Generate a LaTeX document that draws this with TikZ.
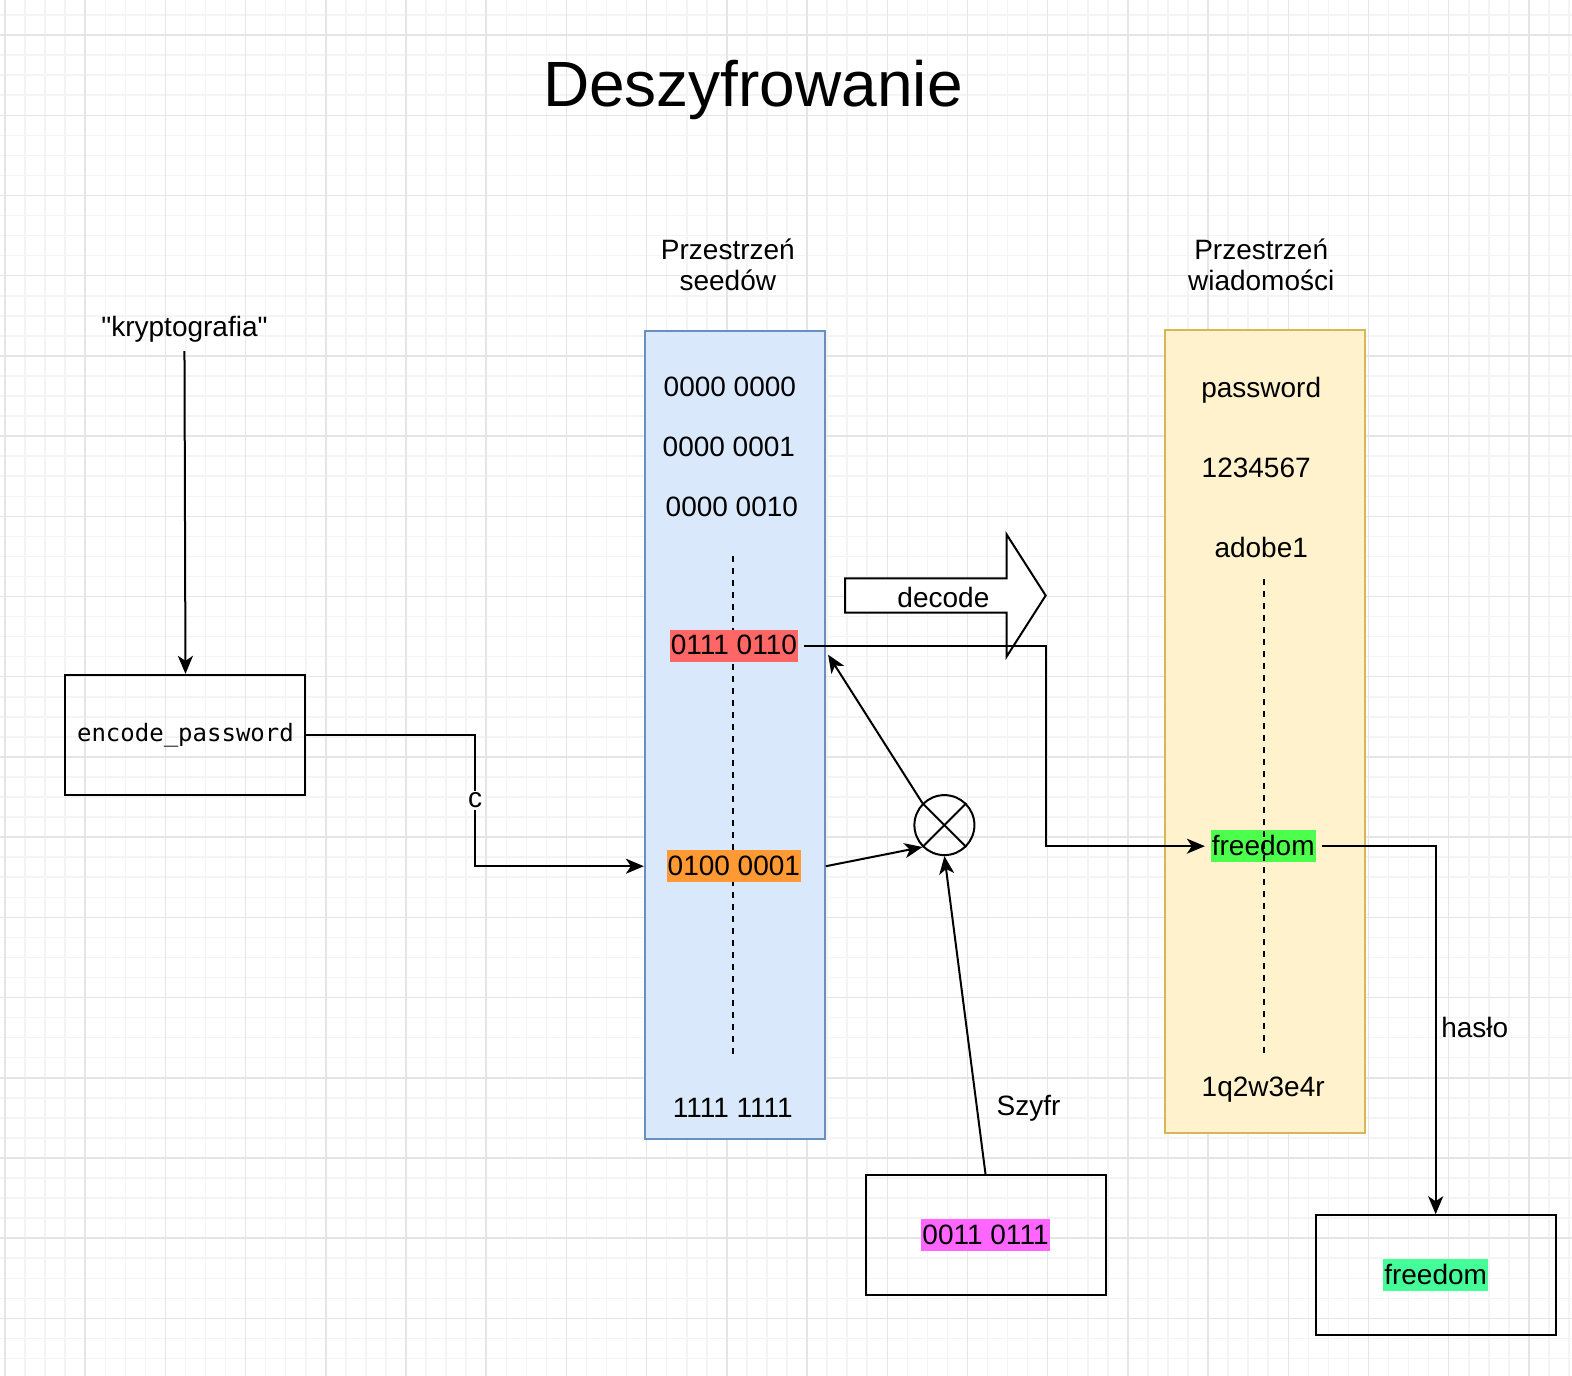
\documentclass[tikz,border=0pt]{standalone}
\usepackage{fontspec}
\setmainfont{Liberation Sans}[Ligatures=TeXOff]
\setmonofont{DejaVu Sans Mono}
\usetikzlibrary{arrows.meta}

\definecolor{gridMinor}{HTML}{F4F4F4}
\definecolor{gridMajor}{HTML}{E5E5E5}
\definecolor{seedFill}{HTML}{DAE8FC}
\definecolor{seedLine}{HTML}{6C8EBF}
\definecolor{msgFill}{HTML}{FFF2CC}
\definecolor{msgLine}{HTML}{D6B656}
\definecolor{hlRed}{HTML}{FF6666}
\definecolor{hlOrange}{HTML}{FF9933}
\definecolor{hlGreen}{HTML}{4DFF4D}
\definecolor{hlMint}{HTML}{44FF99}
\definecolor{hlPink}{HTML}{FF66FF}

\tikzset{
  box/.style={draw, line width=2pt, minimum width=240pt, minimum height=120pt, inner sep=0pt},
  hl/.style={inner xsep=1pt, inner ysep=1pt, text height=24pt, text depth=6pt, outer sep=6pt},
  conn/.style={line width=2pt, -{Stealth[length=18pt,width=15pt,inset=5pt]}},
}

\begin{document}
\begin{tikzpicture}[x=1.00255pt,y=-1.00255pt,font=\fontsize{28}{31}\selectfont]
  \useasboundingbox (0,0) rectangle (1568,1372);
  \fill[white] (0,0) rectangle (1568,1372);

  % grid
  \foreach \x in {5,25,...,1565} {
    \draw[gridMinor,line width=1.5pt] (\x,0) -- (\x,1372);
  }
  \foreach \y in {15,35,...,1355} {
    \draw[gridMinor,line width=1.5pt] (0,\y) -- (1568,\y);
  }
  \foreach \x in {5,85,...,1565} {
    \draw[gridMajor,line width=1.5pt] (\x,0) -- (\x,1372);
  }
  \foreach \y in {35,115,...,1355} {
    \draw[gridMajor,line width=1.5pt] (0,\y) -- (1568,\y);
  }

  \node (title) at (751,90) {\fontsize{64}{70}\selectfont Deszyfrowanie};

  % seed space
  \node[align=center] (seedHead) at (726,264) {Przestrzeń\\seedów};
  \node[draw=seedLine, fill=seedFill, line width=2pt, minimum width=180pt,
        minimum height=808pt] (seedSpace) at (733,733) {};
  \draw[line width=2pt, dash pattern=on 6pt off 6pt] (731,555) -- (731,1052);
  \node (seed0) at (728,386) {0000 0000};
  \node (seed1) at (727,446) {0000 0001};
  \node (seed2) at (730,506) {0000 0010};
  \node[hl, fill=hlRed] (bitA) at (732,644) {0111 0110};
  \node[hl, fill=hlOrange] (bitB) at (732,864) {0100 0001};
  \node (seedLast) at (731,1105) {1111 1111};

  % message space
  \node[align=center] (msgHead) at (1258,264) {Przestrzeń\\wiadomości};
  \node[draw=msgLine, fill=msgFill, line width=2pt, minimum width=200pt,
        minimum height=803pt] (msgSpace) at (1262,730) {};
  \node (msg0) at (1258,389) {password};
  \node (msg1) at (1253,467) {1234567};
  \node (msg2) at (1258,546) {adobe1};
  \node[hl, fill=hlGreen] (msgFree) at (1260,844) {freedom};
  \node (msgLast) at (1260,1087) {1q2w3e4r};
  \draw[line width=2pt, dash pattern=on 6pt off 6pt] (1261,578) -- (1261,1052);

  % decode arrow
  \draw[line width=2pt, fill=white] (843,577) -- (1004,577) -- (1004,533) -- (1043,594)
    -- (1004,655) -- (1004,611) -- (843,611) -- cycle;
  \node (decodeLbl) at (941,596) {decode};

  % password input
  \node[outer sep=6pt] (krypto) at (184,328) {"kryptografia"};
  \node[box] (encodeBox) at (185,733) {\fontsize{24}{28}\selectfont\ttfamily encode\_password};
  \draw[conn] (krypto.south) -- (encodeBox.north);
  \draw[conn] (encodeBox.east) -- (474,733) |- (seedSpace.west |- bitB)
    node[pos=0.25, fill=white, inner sep=2pt] (cLbl) {c};

  % xor
  \node[draw, circle, line width=2pt, minimum size=60pt, inner sep=0pt] (xor) at (942,823) {};
  \draw[line width=2pt] (xor.north west) -- (xor.south east);
  \draw[line width=2pt] (xor.north east) -- (xor.south west);
  \draw[conn] (seedSpace.east |- bitB) -- (xor.south west);
  \coordinate (bitAin) at (826,653);
  \draw[conn] (xor.north west) -- (bitAin);

  \node[box] (cipherBox) at (983,1232) {};
  \node[hl, fill=hlPink] (cipher) at (cipherBox) {0011 0111};
  \draw[conn] (cipherBox.north) -- (xor.south);
  \node (szyfrLbl) at (1026,1105) {Szyfr};

  % result
  \coordinate (bend) at (1043,644);
  \draw[conn] (bitA.east) -- (bend) |- (msgFree.west);
  \node[box] (resultBox) at (1432,1272) {};
  \node[hl, fill=hlMint] (result) at (resultBox) {freedom};
  \draw[conn] (msgFree.east) -| (resultBox.north);
  \node (hasloLbl) at (1471,1025) {hasło};
\end{tikzpicture}
\end{document}
